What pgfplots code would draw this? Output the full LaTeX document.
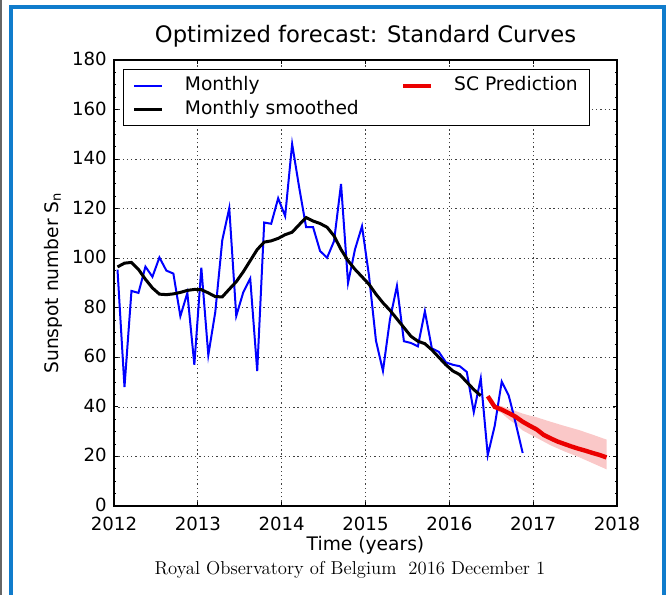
\documentclass[border=0pt]{standalone}
\usepackage{fontspec}
\setsansfont{DejaVu Sans}
\usepackage{pgfplots}
\pgfplotsset{compat=1.18}
\definecolor{frameblue}{RGB}{16,124,204}
\definecolor{bandpink}{RGB}{250,200,200}
\definecolor{predred}{RGB}{235,0,0}
\begin{document}
\begin{tikzpicture}[x=0.75pt,y=0.75pt]
\path[use as bounding box] (0,0) rectangle (669,595);
\draw[black!60, line width=1.5pt] (1,0) -- (1,595);
\draw[frameblue, line width=3pt] (10.8,-10) -- (10.8,588) -- (664,588) -- (664,-10);
\begin{axis}[
  at={(85.5pt,66.75pt)}, anchor=south west,
  width=377.25pt, height=334.5pt, scale only axis,
  xmin=2012, xmax=2018, ymin=0, ymax=180,
  xtick={2012,2013,2014,2015,2016,2017,2018},
  ytick={0,20,40,60,80,100,120,140,160,180},
  minor y tick num=3,
  tick align=inside,
  major tick length=3.3pt, minor tick length=1.8pt,
  every tick/.style={black, line width=0.7pt},
  axis line style={black, line width=0.9pt},
  grid=major,
  major grid style={black!75, line width=0.5pt, dash pattern=on 1pt off 2.2pt},
  /pgf/number format/set thousands separator={},
  /pgf/number format/assume math mode=true,
  font=\sffamily,
  tick label style={font=\sffamily\fontsize{13.6}{16}\selectfont, inner sep=0pt},
  xticklabel style={anchor=base, yshift=-18.6pt},
  yticklabel style={anchor=east, xshift=-5.3pt, yshift=0.8pt},
  title={Optimized forecast: Standard Curves},
  title style={at={(0.5,1.0202)}, anchor=base, font=\sffamily\fontsize{17}{20}\selectfont},
  xlabel={Time (years)},
  xlabel style={at={(0.5,-0.1009)}, anchor=base, font=\sffamily\fontsize{14}{17}\selectfont},
  ylabel={Sunspot number S\textsubscript{n}},
  ylabel style={at={(-0.1113,0.5)}, anchor=base, rotate=0, font=\sffamily\fontsize{14}{17}\selectfont},
  legend columns=2,
  legend image code/.code={\draw[#1] (0pt,0pt) -- (21pt,0pt);},
  legend style={at={(0.0179,0.98)}, anchor=north west, draw=black, line width=0.9pt,
    fill=white, font=\sffamily\fontsize{14}{17}\selectfont,
    inner xsep=7pt, inner ysep=3.4pt,
    nodes={inner sep=2pt, text height=10.5pt, text depth=3pt},
    row sep=0pt,
    /tikz/every odd column/.append style={column sep=13.75pt},
    /tikz/every even column/.append style={column sep=29.5pt},
    cells={anchor=west}},
]
% uncertainty band
\addplot[forget plot, draw=none, fill=bandpink] coordinates {
(2016.458,44.6) (2016.542,41.0) (2016.625,40.3) (2016.708,39.3) (2016.792,38.3)
(2016.875,37.3) (2016.958,36.5) (2017.042,35.8) (2017.208,34.0) (2017.375,32.3)
(2017.542,30.7) (2017.708,28.8) (2017.875,26.8)
(2017.875,14.8) (2017.708,17.3) (2017.542,19.8) (2017.375,22.0) (2017.208,24.5)
(2017.042,27.5) (2016.958,29.0) (2016.875,30.5) (2016.792,33.0) (2016.708,35.0)
(2016.625,37.5) (2016.542,39.0) (2016.458,44.0)} -- cycle;
% monthly
\addplot[forget plot, blue, line width=1.5pt] table {
2012.0417 95.4
2012.1250 48.0
2012.2083 86.8
2012.2917 86.0
2012.3750 96.6
2012.4583 92.5
2012.5417 100.3
2012.6250 95.0
2012.7083 93.8
2012.7917 76.6
2012.8750 86.0
2012.9583 57.0
2013.0417 96.2
2013.1250 60.9
2013.2083 78.3
2013.2917 107.3
2013.3750 120.2
2013.4583 76.7
2013.5417 86.2
2013.6250 91.8
2013.7083 54.5
2013.7917 114.4
2013.8750 113.9
2013.9583 124.2
2014.0417 117.0
2014.1250 146.1
2014.2083 128.7
2014.2917 112.5
2014.3750 112.5
2014.4583 102.9
2014.5417 100.2
2014.6250 106.9
2014.7083 130.0
2014.7917 90.0
2014.8750 103.6
2014.9583 112.9
2015.0417 93.0
2015.1250 66.7
2015.2083 54.5
2015.2917 75.3
2015.3750 88.8
2015.4583 66.5
2015.5417 65.8
2015.6250 64.4
2015.7083 78.6
2015.7917 63.6
2015.8750 62.2
2015.9583 58.0
2016.0417 57.0
2016.1250 56.4
2016.2083 54.1
2016.2917 37.9
2016.3750 51.5
2016.4583 20.5
2016.5417 32.4
2016.6250 50.2
2016.7083 44.6
2016.7917 33.4
2016.8750 21.4
};
% smoothed
\addplot[forget plot, black, line width=2.25pt] table {
2012.0417 96.5
2012.1250 98.0
2012.2083 98.3
2012.2917 95.5
2012.3750 91.5
2012.4583 88.0
2012.5417 85.5
2012.6250 85.3
2012.7083 85.6
2012.7917 86.2
2012.8750 87.0
2012.9583 87.4
2013.0417 87.3
2013.1250 86.0
2013.2083 84.5
2013.2917 84.4
2013.3750 87.5
2013.4583 90.5
2013.5417 94.5
2013.6250 99.0
2013.7083 103.5
2013.7917 106.5
2013.8750 107.0
2013.9583 108.0
2014.0417 109.5
2014.1250 110.5
2014.2083 113.5
2014.2917 116.4
2014.3750 115.0
2014.4583 114.0
2014.5417 112.5
2014.6250 109.0
2014.7083 103.5
2014.7917 99.0
2014.8750 95.5
2014.9583 92.5
2015.0417 89.5
2015.1250 85.5
2015.2083 82.0
2015.2917 79.0
2015.3750 75.5
2015.4583 72.0
2015.5417 68.5
2015.6250 66.5
2015.7083 65.5
2015.7917 63.0
2015.8750 60.0
2015.9583 57.0
2016.0417 54.5
2016.1250 53.0
2016.2083 50.0
2016.2917 47.0
2016.3750 44.5
};
% prediction
\addplot[forget plot, predred, line width=3.3pt] table {
2016.4583 44.3
2016.5417 40.0
2016.6250 38.9
2016.7083 37.5
2016.7917 36.0
2016.8750 34.0
2016.9583 32.4
2017.0417 30.9
2017.1250 28.7
2017.2083 27.3
2017.2917 26.0
2017.3750 25.0
2017.4583 24.0
2017.5417 23.1
2017.6250 22.3
2017.7083 21.4
2017.7917 20.6
2017.8750 19.6
};
\addlegendimage{blue, line width=1.3pt}
\addlegendentry{Monthly}
\addlegendimage{predred, line width=3.3pt}
\addlegendentry{SC Prediction}
\addlegendimage{black, line width=2.25pt}
\addlegendentry{Monthly smoothed}
\end{axis}
\node[anchor=base, font=\rmfamily\fontsize{14}{17}\selectfont] at (350,20) {Royal Observatory of Belgium\hspace{9pt}2016 December 1};
\end{tikzpicture}
\end{document}
